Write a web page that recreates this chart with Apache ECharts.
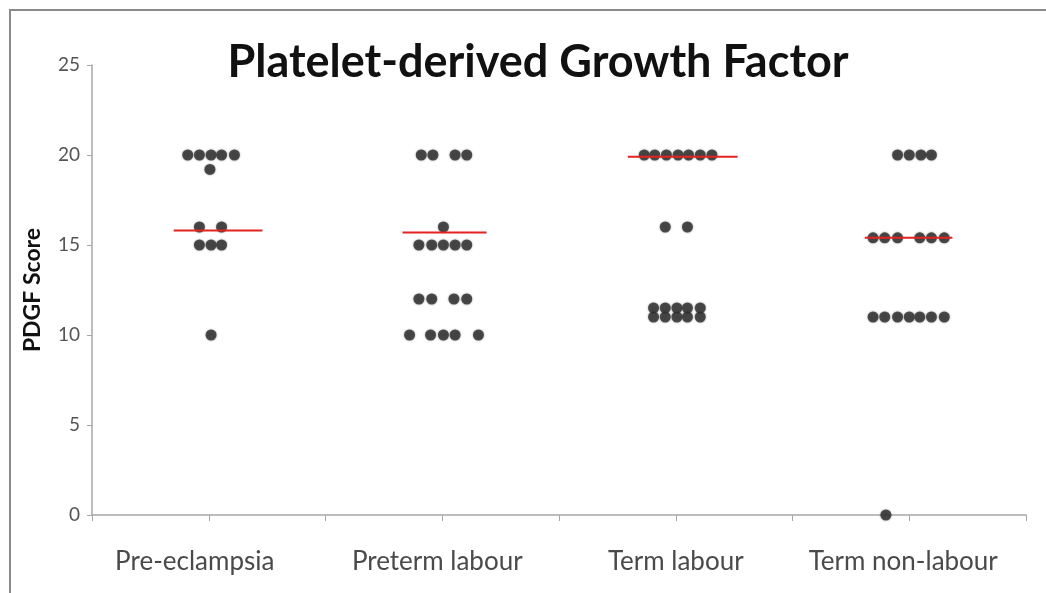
<!DOCTYPE html>
<html>
<head>
<meta charset="utf-8">
<title>Platelet-derived Growth Factor</title>
<script src="https://cdn.jsdelivr.net/npm/echarts@6/dist/echarts.min.js"></script>
<style>
  html, body { margin: 0; padding: 0; background: #fff; }
  #chart { width: 1046px; height: 593px; }
</style>
</head>
<body>
<div id="chart"></div>
<script>
// Group names, placed at odd positions along the x scale (1, 3, 5, 7)
const categories = ['Pre-eclampsia', 'Preterm labour', 'Term labour', 'Term non-labour'];
const categoryPositions = [1, 3, 5, 7];
const yTicks = [0, 5, 10, 15, 20, 25];

// Individual PDGF scores per group as [x position, score]; x spreads the dots side by side
const preEclampsia = [
  [0.82, 20], [0.92, 20], [1.02, 20], [1.11, 20], [1.22, 20],
  [1.01, 19.2],
  [0.92, 16], [1.11, 16],
  [0.92, 15], [1.02, 15], [1.11, 15],
  [1.02, 10]
];
const pretermLabour = [
  [2.82, 20], [2.92, 20], [3.11, 20], [3.21, 20],
  [3.01, 16],
  [2.80, 15], [2.91, 15], [3.01, 15], [3.11, 15], [3.21, 15],
  [2.80, 12], [2.91, 12], [3.10, 12], [3.21, 12],
  [2.72, 10], [2.90, 10], [3.01, 10], [3.11, 10], [3.31, 10]
];
const termLabour = [
  [4.73, 20], [4.82, 20], [4.92, 20], [5.02, 20], [5.11, 20], [5.21, 20], [5.31, 20],
  [4.91, 16], [5.10, 16],
  [4.81, 11.5], [4.91, 11.5], [5.01, 11.5], [5.10, 11.5], [5.21, 11.5],
  [4.81, 11], [4.91, 11], [5.01, 11], [5.10, 11], [5.21, 11]
];
const termNonLabour = [
  [6.90, 20], [7.00, 20], [7.10, 20], [7.19, 20],
  [6.69, 15.4], [6.79, 15.4], [6.90, 15.4], [7.09, 15.4], [7.19, 15.4], [7.30, 15.4],
  [6.69, 11], [6.79, 11], [6.90, 11], [7.00, 11], [7.09, 11], [7.19, 11], [7.30, 11],
  [6.80, 0]
];

// Group average bars: [left x, right x, score]
const averageLines = [
  [0.70, 1.46, 15.8],
  [2.66, 3.38, 15.7],
  [4.59, 5.53, 19.9],
  [6.62, 7.37, 15.4]
];

const groups = [preEclampsia, pretermLabour, termLabour, termNonLabour];

const labelFor = {};
categoryPositions.forEach((p, i) => { labelFor[p] = i; });

const fontFamily = 'Lato, "Open Sans", sans-serif';

// Group labels sit slightly left of their tick; right padding nudges each one
const labelStyle = { fontFamily: fontFamily, fontSize: 26, color: '#4a4a4a' };
const rich = {
  g0: Object.assign({ padding: [0, 28, 0, 0] }, labelStyle),
  g1: Object.assign({ padding: [0, 10, 0, 0] }, labelStyle),
  g2: Object.assign({ padding: [0, 0, 0, 0] }, labelStyle),
  g3: Object.assign({ padding: [0, 12, 0, 0] }, labelStyle)
};

const series = [];
groups.forEach((data, i) => {
  series.push({
    name: categories[i],
    type: 'scatter',
    data: data,
    symbol: 'circle',
    symbolSize: 11,
    itemStyle: { color: '#2e2e2e', shadowBlur: 2, shadowColor: 'rgba(40,40,40,0.6)' },
    z: 2
  });
});
averageLines.forEach((l, i) => {
  series.push({
    name: categories[i] + ' average',
    type: 'line',
    data: [[l[0], l[2]], [l[1], l[2]]],
    symbol: 'none',
    lineStyle: { color: '#e3231f', width: 2 },
    z: 3,
    silent: true
  });
});

const chart = echarts.init(document.getElementById('chart'), null, { renderer: 'canvas' });
chart.setOption({
  animation: false,
  backgroundColor: '#ffffff',
  title: {
    text: 'Platelet-derived Growth Factor',
    left: 533,
    top: 35,
    textAlign: 'center',
    textStyle: { fontFamily: fontFamily, fontWeight: 'bold', fontSize: 45, color: '#111' }
  },
  graphic: [
    {
      type: 'polyline',
      shape: { points: [[10, 600], [10, 10], [1050, 10]] },
      style: { stroke: '#8a8a8a', lineWidth: 2, fill: null },
      silent: true
    }
  ],
  grid: { left: 92, right: 20, top: 65, bottom: 78 },
  xAxis: {
    type: 'value',
    min: 0,
    max: 8,
    interval: 1,
    splitLine: { show: false },
    axisLine: { show: true, onZero: false, lineStyle: { color: '#a6a6a6', width: 1.5 } },
    axisTick: { show: true, length: 6, lineStyle: { color: '#a6a6a6' } },
    axisLabel: {
      margin: 34,
      fontFamily: fontFamily,
      fontSize: 26,
      color: '#4a4a4a',
      showMinLabel: true,
      showMaxLabel: true,
      rich: rich,
      formatter: v => (v in labelFor) ? '{g' + labelFor[v] + '|' + categories[labelFor[v]] + '}' : ''
    }
  },
  yAxis: {
    type: 'value',
    min: yTicks[0],
    max: yTicks[yTicks.length - 1],
    interval: 5,
    name: 'PDGF Score',
    nameLocation: 'middle',
    nameGap: 48,
    nameTextStyle: { fontFamily: fontFamily, fontWeight: 'bold', fontSize: 23, color: '#111' },
    splitLine: { show: false },
    axisLine: { show: true, lineStyle: { color: '#a6a6a6', width: 1.5 } },
    axisTick: { show: true, length: 5, lineStyle: { color: '#a6a6a6' } },
    axisLabel: { margin: 12, fontFamily: fontFamily, fontSize: 19, color: '#555' }
  },
  series: series
});
</script>
</body>
</html>
